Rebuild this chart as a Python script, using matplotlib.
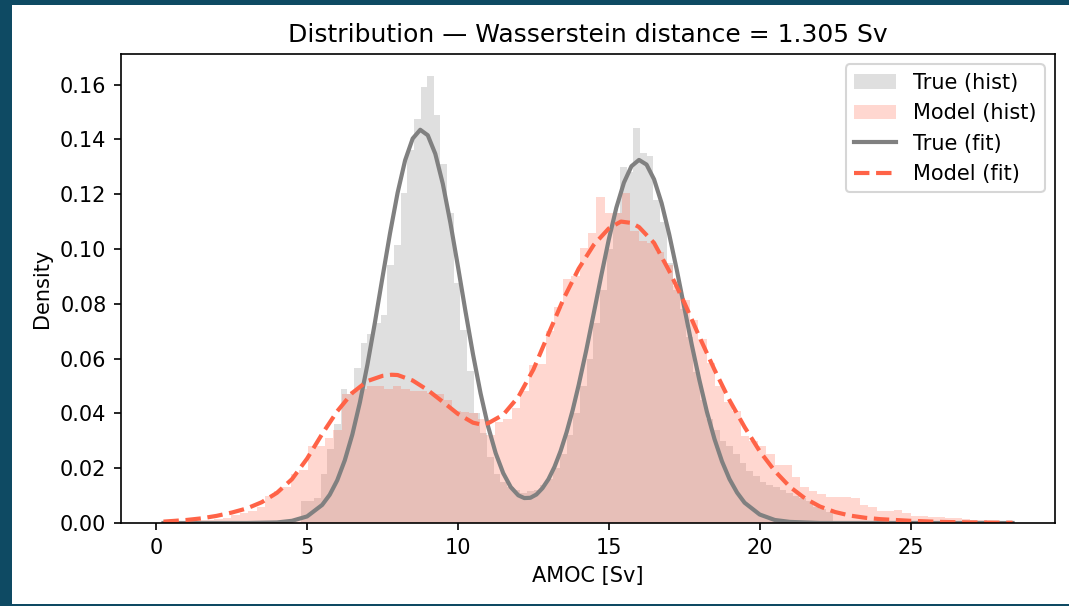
import numpy as np
import matplotlib
matplotlib.use("Agg")
import matplotlib.pyplot as plt
import matplotlib.patches as patches

# histogram densities
true_range = (4.794, 22.42)
true_density = [
    0.008, 0.008, 0.009, 0.018, 0.027, 0.036, 0.049, 0.047, 0.0565, 0.0657,
    0.069, 0.073, 0.076, 0.094, 0.1016, 0.1205, 0.136, 0.1476, 0.159, 0.163,
    0.1488, 0.131, 0.113, 0.0877, 0.0706, 0.0553, 0.040, 0.033, 0.024, 0.018,
    0.015, 0.013, 0.012, 0.011, 0.0115, 0.012, 0.014, 0.016, 0.020, 0.025,
    0.032, 0.040, 0.050, 0.060, 0.073, 0.085, 0.100, 0.113, 0.130, 0.128,
    0.144, 0.135, 0.134, 0.118, 0.110, 0.095, 0.085, 0.078, 0.068, 0.055,
    0.045, 0.038, 0.034, 0.030, 0.028, 0.025, 0.022, 0.019, 0.017, 0.015,
    0.014, 0.013, 0.012, 0.011, 0.010, 0.009, 0.008, 0.006, 0.005, 0.004,
]

model_range = (0.24, 28.38)
model_density = [
    0.0005, 0.0005, 0.0007, 0.0008, 0.0010, 0.0012, 0.0015, 0.0020, 0.0030, 0.0035,
    0.0045, 0.0060, 0.0100, 0.0115, 0.0130, 0.0180, 0.0195, 0.0280, 0.0280, 0.0310,
    0.0340, 0.0470, 0.0480, 0.0490, 0.0500, 0.0500, 0.0490, 0.0500, 0.0490, 0.0480,
    0.0480, 0.0475, 0.0470, 0.0450, 0.0410, 0.0405, 0.0400, 0.0380, 0.0320, 0.0370,
    0.0380, 0.0420, 0.0480, 0.0575, 0.0580, 0.0700, 0.0790, 0.0890, 0.0900, 0.1005,
    0.1060, 0.1190, 0.1130, 0.1130, 0.1205, 0.1065, 0.1030, 0.1020, 0.0990, 0.0940,
    0.0864, 0.0815, 0.0740, 0.0670, 0.0585, 0.0500, 0.0440, 0.0410, 0.0316, 0.0300,
    0.0280, 0.0250, 0.0212, 0.0210, 0.0169, 0.0133, 0.0115, 0.0105, 0.0096, 0.0096,
    0.0096, 0.0090, 0.0066, 0.0060, 0.0045, 0.0043, 0.0048, 0.0038, 0.0025, 0.0025,
    0.0023, 0.0022, 0.0020, 0.0019, 0.0015, 0.0012, 0.0010, 0.0008, 0.0006, 0.0005,
]

# fitted curves
true_fit_x = [0.24, 1, 2, 3, 3.5, 4, 4.5, 5, 5.5, 5.75, 6, 6.25, 6.5, 6.75, 7,
              7.25, 7.5, 7.75, 8, 8.25, 8.5, 8.75, 9, 9.25, 9.5, 9.75, 10,
              10.25, 10.5, 10.75, 11, 11.25, 11.5, 11.75, 12, 12.2, 12.4, 12.6,
              12.8, 13.0, 13.2, 13.4, 13.6, 13.8, 14, 14.25, 14.5, 14.75, 15,
              15.25, 15.5, 15.75, 16, 16.25, 16.5, 16.75, 17, 17.25, 17.5,
              17.75, 18, 18.25, 18.5, 18.75, 19, 19.25, 19.5, 20, 20.5, 21, 22,
              23, 24, 26, 28.38]
true_fit_y = [0.0, 0.0, 0.0, 0.0, 0.0001, 0.0002, 0.0008, 0.0024, 0.0066, 0.0103,
              0.0156, 0.0229, 0.0323, 0.0440, 0.0578, 0.0733, 0.0897, 0.1058,
              0.1205, 0.1324, 0.1403, 0.1435, 0.1415, 0.1347, 0.1237, 0.1095,
              0.0936, 0.0772, 0.0615, 0.0473, 0.0352, 0.0255, 0.0182, 0.0131,
              0.0101, 0.0091, 0.0092, 0.0104, 0.0127, 0.0160, 0.0205, 0.0262,
              0.0331, 0.0411, 0.0503, 0.0629, 0.0765, 0.0903, 0.1035, 0.1151,
              0.1242, 0.1302, 0.1325, 0.1308, 0.1254, 0.1167, 0.1054, 0.0925,
              0.0787, 0.0650, 0.0522, 0.0406, 0.0307, 0.0225, 0.0160, 0.0111,
              0.0074, 0.0031, 0.0011, 0.0004, 0.0, 0.0, 0.0, 0.0, 0.0]

model_fit_x = [0.24, 1.0, 1.5, 2.0, 2.5, 3.0, 3.5, 4.0, 4.5, 5.0, 5.5, 6.0, 6.5,
               7.0, 7.5, 7.8, 8.0, 8.5, 9.0, 9.5, 10.0, 10.5, 10.75, 11.0, 11.5,
               12.0, 12.5, 13.0, 13.5, 14.0, 14.5, 15.0, 15.4, 15.75, 16.0,
               16.5, 17.0, 17.5, 18.0, 18.5, 19.0, 19.5, 20.0, 20.5, 21.0,
               21.5, 22.0, 22.5, 23.0, 23.5, 24.0, 25.0, 26.0, 27.0, 28.38]
model_fit_y = [0.0005, 0.0011, 0.0017, 0.0026, 0.0038, 0.0053, 0.0076, 0.0110,
               0.0160, 0.0235, 0.0325, 0.0408, 0.0475, 0.0518, 0.0537, 0.0541,
               0.0540, 0.0520, 0.0485, 0.0442, 0.0398, 0.0366, 0.0360, 0.0364,
               0.0395, 0.0460, 0.0560, 0.0690, 0.0818, 0.0928, 0.1015, 0.1075,
               0.1100, 0.1095, 0.1080, 0.1022, 0.0920, 0.0805, 0.0680, 0.0560,
               0.0448, 0.0350, 0.0262, 0.0190, 0.0132, 0.0090, 0.0060, 0.0040,
               0.0027, 0.0019, 0.0014, 0.0008, 0.0004, 0.0002, 0.0001]

wasserstein = 1.305

dpi = 150
fig = plt.figure(figsize=(1069 / dpi, 606 / dpi), dpi=dpi)
ax = fig.add_axes([121 / 1069, 83 / 606, 934 / 1069, 469 / 606])

true_edges = np.linspace(true_range[0], true_range[1], len(true_density) + 1)
model_edges = np.linspace(model_range[0], model_range[1], len(model_density) + 1)

ax.hist(true_edges[:-1], bins=true_edges, weights=true_density,
        color="gray", alpha=0.25, label="True (hist)")
ax.hist(model_edges[:-1], bins=model_edges, weights=model_density,
        color="tomato", alpha=0.25, label="Model (hist)")
ax.plot(true_fit_x, true_fit_y, color="gray", lw=2, label="True (fit)")
ax.plot(model_fit_x, model_fit_y, color="tomato", lw=2, ls="--",
        label="Model (fit)")

ax.set_title(f"Distribution \u2014 Wasserstein distance = {wasserstein:.3f} Sv")
ax.set_xlabel("AMOC [Sv]")
ax.set_ylabel("Density")
ax.legend(loc="upper right")

# dark frame from the screenshot
frame = "#0e4a63"
fig.patches.append(patches.Rectangle((0, 0), 12 / 1069, 1, transform=fig.transFigure,
                                     facecolor=frame, edgecolor="none"))
fig.patches.append(patches.Rectangle((0, 1 - 5 / 606), 1, 5 / 606, transform=fig.transFigure,
                                     facecolor=frame, edgecolor="none"))
fig.patches.append(patches.Rectangle((0, 0), 1, 2 / 606, transform=fig.transFigure,
                                     facecolor=frame, edgecolor="none"))

fig.savefig("out.png", dpi=dpi)
